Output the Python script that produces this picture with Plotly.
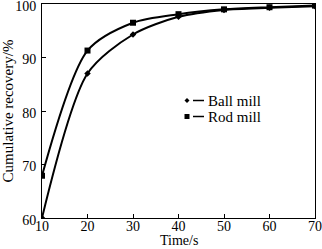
import plotly.graph_objects as go

time_s = [10, 20, 30, 40, 50, 60, 70]
ball_mill = [60.0, 87.0, 94.3, 97.6, 98.9, 99.3, 99.6]
rod_mill = [67.9, 91.3, 96.5, 98.1, 99.0, 99.4, 99.7]
series_names = ["Ball mill", "Rod mill"]

font_family = "Liberation Serif, Times New Roman, serif"

W, H = 322, 249
ML, MR, MT, MB = 42, 7, 4, 31
PW, PH = W - ML - MR, H - MT - MB


def fx(px):
    return (px - ML) / PW


def fy(py):
    return (H - MB - py) / PH


fig = go.Figure()
fig.add_trace(go.Scatter(x=time_s, y=ball_mill, name=series_names[0], mode="lines+markers",
                         line=dict(color="black", width=2, shape="spline", smoothing=0.8),
                         marker=dict(symbol="diamond", size=5, color="black")))
fig.add_trace(go.Scatter(x=time_s, y=rod_mill, name=series_names[1], mode="lines+markers",
                         line=dict(color="black", width=2, shape="spline", smoothing=0.8),
                         marker=dict(symbol="square", size=6, color="black")))

# manual legend: marker, short dash, label
shapes = []
annotations = []
rows = [(series_names[0], 100.5, "diamond"), (series_names[1], 116.5, "square")]
for name, py, sym in rows:
    mx = 187
    d = 2.5
    if sym == "diamond":
        path = (f"M {fx(mx - d)} {fy(py)} L {fx(mx)} {fy(py - d)} L {fx(mx + d)} {fy(py)} "
                f"L {fx(mx)} {fy(py + d)} Z")
        shapes.append(dict(type="path", xref="paper", yref="paper", path=path,
                           fillcolor="black", line=dict(color="black", width=0)))
    else:
        shapes.append(dict(type="rect", xref="paper", yref="paper",
                           x0=fx(mx - d), x1=fx(mx + d), y0=fy(py + d), y1=fy(py - d),
                           fillcolor="black", line=dict(color="black", width=0)))
    shapes.append(dict(type="line", xref="paper", yref="paper",
                       x0=fx(193), x1=fx(204), y0=fy(py), y1=fy(py),
                       line=dict(color="black", width=1.5)))
    annotations.append(dict(text=name, xref="paper", yref="paper", x=fx(206), y=fy(py),
                            xanchor="left", yanchor="middle", showarrow=False,
                            font=dict(size=15, family=font_family, color="black")))

# x axis title placed just under the tick labels
annotations.append(dict(text="Time/s", xref="paper", yref="paper", x=fx(179), y=fy(250),
                        xanchor="center", yanchor="bottom", showarrow=False,
                        font=dict(size=14, family=font_family, color="black")))

fig.update_layout(
    width=W, height=H,
    margin=dict(l=ML, r=MR, t=MT, b=MB),
    paper_bgcolor="white", plot_bgcolor="white",
    font=dict(family=font_family, size=14, color="black"),
    showlegend=False,
    shapes=shapes,
    annotations=annotations,
)
fig.update_xaxes(range=[10, 70], tickvals=[10, 20, 30, 40, 50, 60, 70],
                 ticks="inside", ticklen=4, tickcolor="black", tickfont=dict(size=14),
                 ticklabeloverflow="allow", automargin=False, ticklabelstandoff=-5,
                 showline=True, linecolor="black", linewidth=1, mirror=True,
                 showgrid=False, zeroline=False)
fig.update_yaxes(range=[60, 100], tickvals=[60, 70, 80, 90, 100],
                 ticks="inside", ticklen=4, tickcolor="black",
                 ticklabeloverflow="allow", automargin=False, ticklabelshift=2,
                 ticklabelstandoff=2,
                 showline=True, linecolor="black", linewidth=1, mirror=True,
                 showgrid=False, zeroline=False,
                 title=dict(text="Cumulative recovery/%", standoff=0, font=dict(size=15)))

fig.write_html("out.html")
